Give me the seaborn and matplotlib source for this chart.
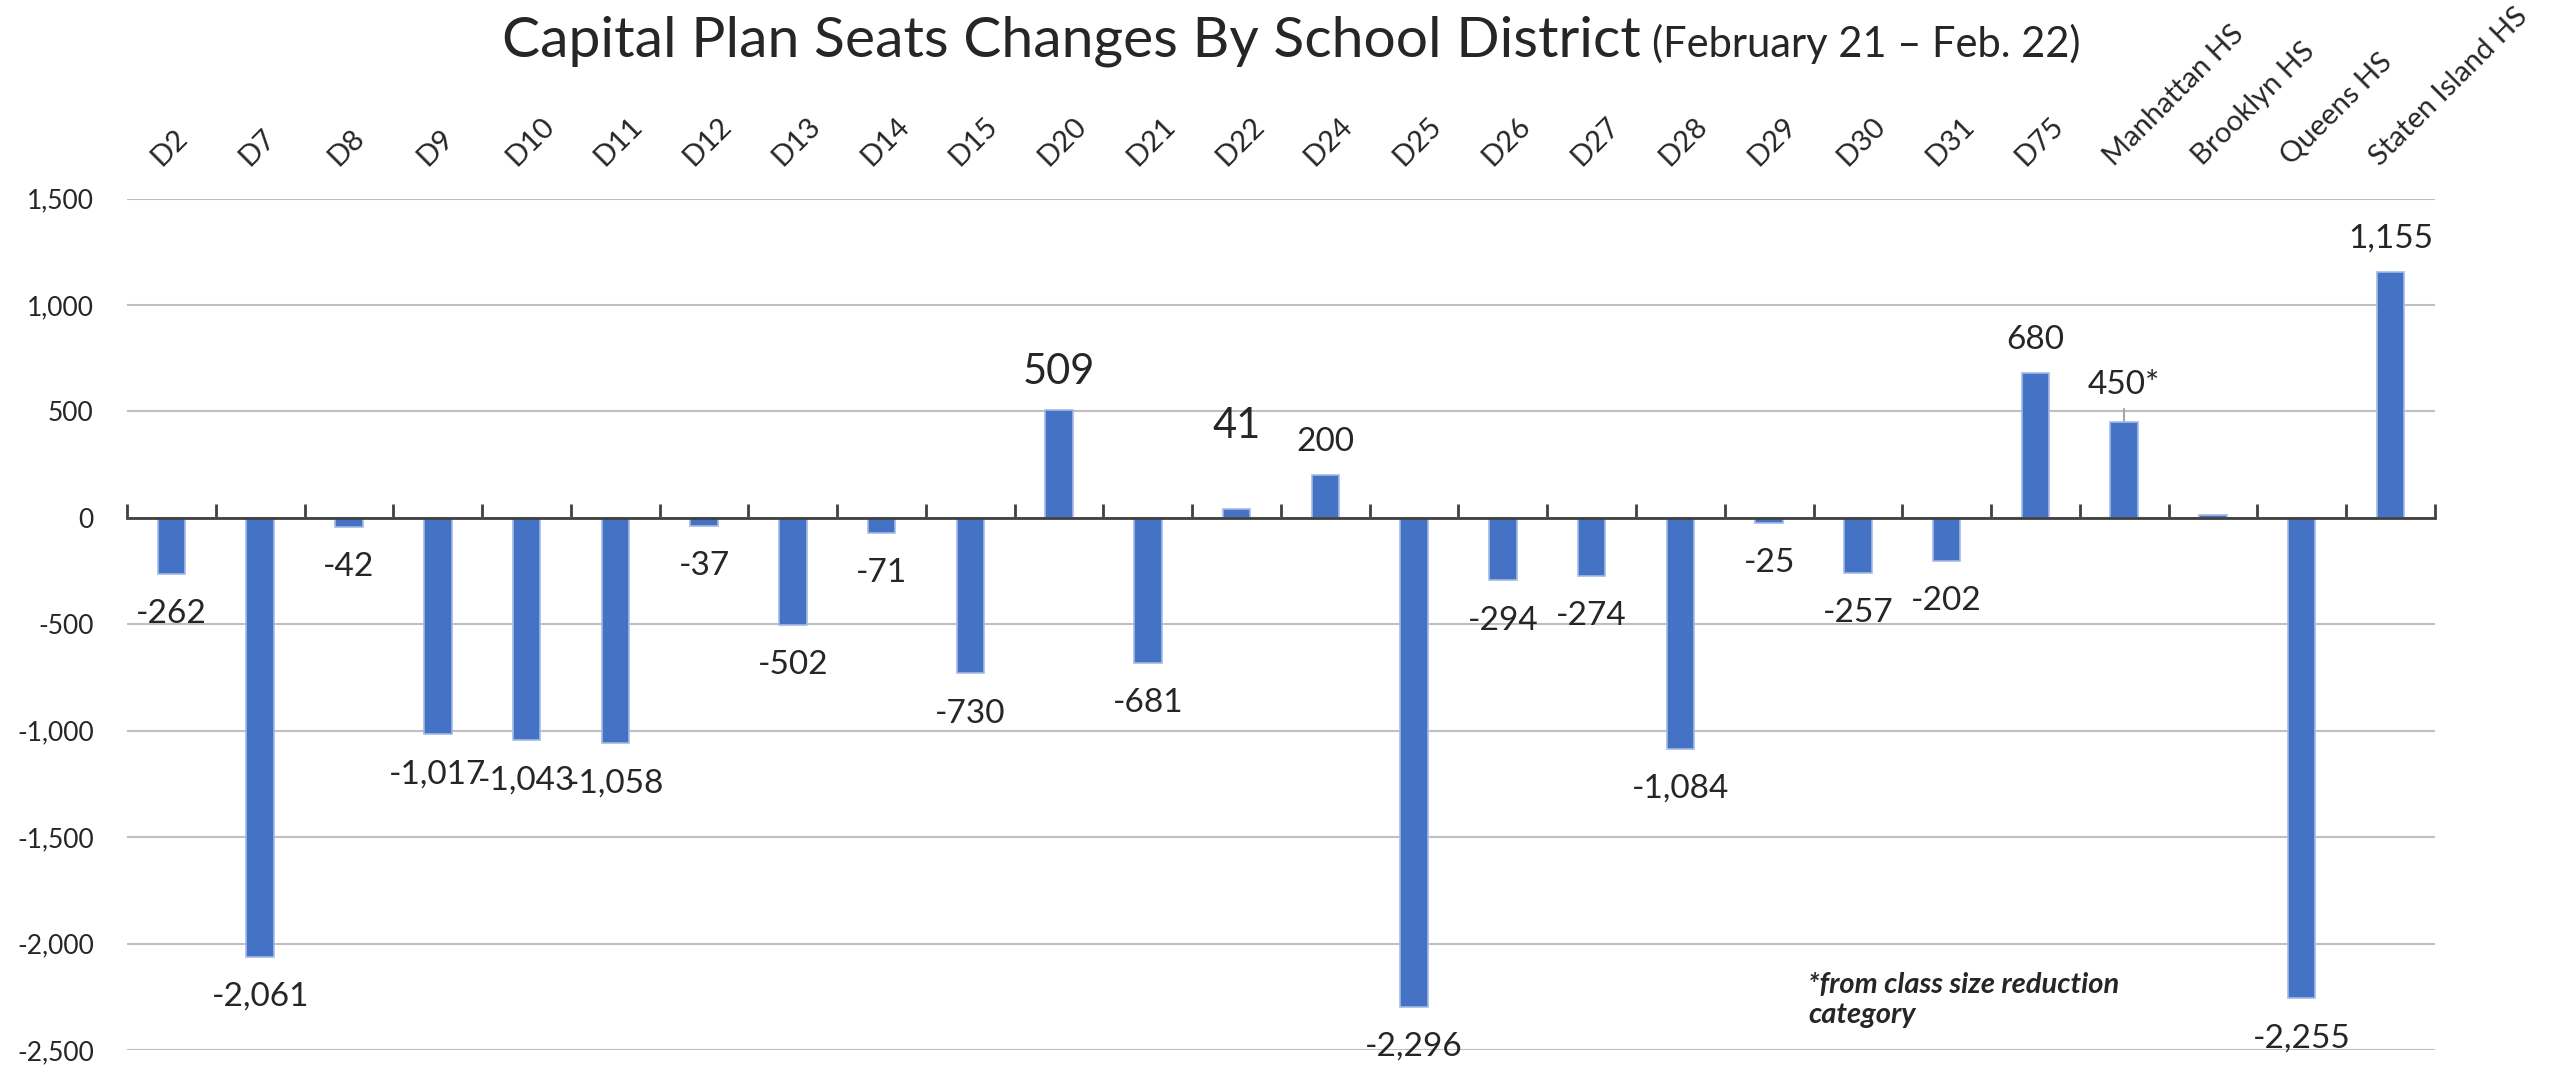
import numpy as np
import pandas as pd
import matplotlib
matplotlib.use('Agg')
import matplotlib.pyplot as plt
import matplotlib.transforms as mtransforms
import seaborn as sns

# Données
districts = ['D2', 'D7', 'D8', 'D9', 'D10', 'D11', 'D12', 'D13', 'D14', 'D15',
             'D20', 'D21', 'D22', 'D24', 'D25', 'D26', 'D27', 'D28', 'D29', 'D30',
             'D31', 'D75', 'Manhattan HS', 'Brooklyn HS', 'Queens HS', 'Staten Island HS']
seat_changes = [-262, -2061, -42, -1017, -1043, -1058, -37, -502, -71, -730,
                509, -681, 41, 200, -2296, -294, -274, -1084, -25, -257,
                -202, 680, 450, 15, -2255, 1155]
y_ticks = [-2500, -2000, -1500, -1000, -500, 0, 500, 1000, 1500]

df = pd.DataFrame({'district': districts, 'change': seat_changes})

sns.set_style('white')
plt.rcParams['font.family'] = ['Lato', 'DejaVu Sans']

fig = plt.figure(figsize=(25.52, 10.7), dpi=100)
ax = fig.add_axes([0.0498, 0.0187, 0.9043, 0.7957])

sns.barplot(data=df, x='district', y='change', color='#4472C4', saturation=1,
            width=0.31, edgecolor='#A3BAE6', linewidth=1.2, ax=ax, zorder=3)

ax.set_ylim(-2500, 1500)
ax.set_yticks(y_ticks)
ax.set_yticklabels([f'{v:,}' for v in y_ticks], fontsize=19)
ax.yaxis.grid(True, color='#BFBFBF', lw=1.5)
ax.set_axisbelow(True)
ax.tick_params(axis='y', length=0, pad=24)

for s in ['left', 'right', 'top']:
    ax.spines[s].set_visible(False)
ax.spines['bottom'].set_position(('data', 0))
ax.spines['bottom'].set_color('#404040')
ax.spines['bottom'].set_linewidth(2)
ax.spines['bottom'].set_zorder(4)

# étiquettes des catégories en haut
ax.set_xticks(range(len(districts)))
ax.set_xticklabels(districts, rotation=45, ha='left', rotation_mode='anchor', fontsize=21)
ax.tick_params(axis='x', which='major', bottom=False, top=False,
               labelbottom=False, labeltop=True, pad=17)
shift = mtransforms.ScaledTranslation(-0.07, 0, fig.dpi_scale_trans)
for lab in ax.get_xticklabels():
    lab.set_transform(lab.get_transform() + shift)
ax.set_xticks(np.arange(-0.5, len(districts), 1), minor=True)
ax.tick_params(axis='x', which='minor', direction='in', length=10, width=2,
               color='#404040', bottom=True, top=False)
ax.set_xlabel('')
ax.set_ylabel('')

# valeurs sur les barres
for i, (d, v) in enumerate(zip(districts, seat_changes)):
    if d == 'Brooklyn HS':
        continue
    lab = f'{v:,}'
    size = 24
    off = 24 if v >= 0 else -29
    if d == 'Manhattan HS':
        lab = lab + '*'
        off = 27
    if d in ('D20', 'D22'):
        size = 30
        off = 27 if d == 'D20' else 60
    ax.annotate(lab, (i, v), xytext=(0, off), textcoords='offset points',
                ha='center', va='center', fontsize=size, annotation_clip=False)

# trait de rappel pour Manhattan HS
ax.plot([22, 22], [450, 510], color='#A6A6A6', lw=1.5, zorder=2)
ax.set_xlim(-0.5, len(districts) - 0.5)

# titre
fig.text(0.643, 0.947, 'Capital Plan Seats Changes By School District',
         ha='right', va='baseline', fontsize=41)
fig.text(0.6475, 0.947, '(February 21 – Feb. 22)',
         ha='left', va='baseline', fontsize=30)

# note
fig.text(0.7085, 0.0916, '*from class size reduction\ncategory',
         fontsize=21, fontweight='bold', fontstyle='italic', ha='left', va='top',
         linespacing=1.2)

fig.savefig('out.png', dpi=100)
